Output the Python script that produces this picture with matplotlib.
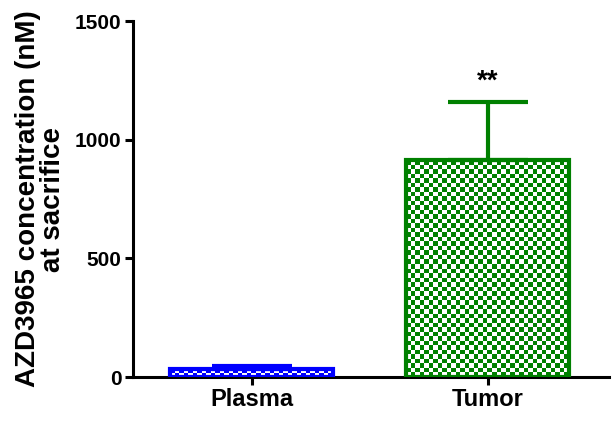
import numpy as np
import matplotlib.pyplot as plt
from matplotlib.colors import ListedColormap

plt.rcParams['font.family'] = ['Liberation Sans', 'DejaVu Sans']

groups = ["Plasma", "Tumor"]
means = [35, 914]
sem = [12, 245]
colors = ["#0000ff", "#008000"]
signif = ["", "**"]

fig = plt.figure(figsize=(6.15, 4.21), dpi=100)
ax = fig.add_axes([0.216, 0.1045, 0.774, 0.8455])

x = np.arange(len(groups))
width = 0.69
ax.set_xlim(-0.504, 1.513)
ax.set_ylim(0, 1500)

bars = ax.bar(x, means, width, color="none", edgecolor=colors, linewidth=3, zorder=3)

# checkerboard fill, clipped to each bar
fig.canvas.draw()
cell = 4.5  # checker cell in pixels
for b, c in zip(bars, colors):
    x0, y0 = b.get_x(), b.get_y()
    x1, y1 = x0 + b.get_width(), y0 + b.get_height()
    p0 = ax.transData.transform((x0, y0))
    p1 = ax.transData.transform((x1, y1))
    nx = max(2, int(round((p1[0] - p0[0]) / cell)))
    ny = max(2, int(round((p1[1] - p0[1]) / cell)))
    board = (np.add.outer(np.arange(ny), np.arange(nx)) % 2).astype(float)
    im = ax.imshow(board, cmap=ListedColormap(["white", c]), extent=(x0, x1, y0, y1),
                   aspect="auto", interpolation="nearest", origin="lower", zorder=2)
    im.set_clip_path(b)

for i in range(len(groups)):
    ax.errorbar(x[i], means[i], yerr=[[0], [sem[i]]], fmt="none", ecolor=colors[i],
                elinewidth=3, capsize=29, capthick=3, zorder=4)
    if signif[i]:
        ax.text(x[i], means[i] + sem[i] + 30, signif[i], ha="center", va="bottom",
                fontsize=20, fontweight="bold")

ax.set_xticks(x)
ax.set_xticklabels(groups, fontsize=17, fontweight="bold")
ax.set_yticks([0, 500, 1000, 1500])
ax.set_yticklabels(["0", "500", "1000", "1500"], fontsize=15, fontweight="bold")
ax.set_ylabel("AZD3965 concentration (nM)\nat sacrifice", fontsize=20, fontweight="bold",
              linespacing=0.95)
ax.yaxis.set_label_coords(-0.14, 0.5)

for s in ["top", "right"]:
    ax.spines[s].set_visible(False)
for s in ["left", "bottom"]:
    ax.spines[s].set_linewidth(2.2)
ax.tick_params(axis="both", width=2.2, length=6, pad=2)

fig.savefig("out.png", dpi=100)
